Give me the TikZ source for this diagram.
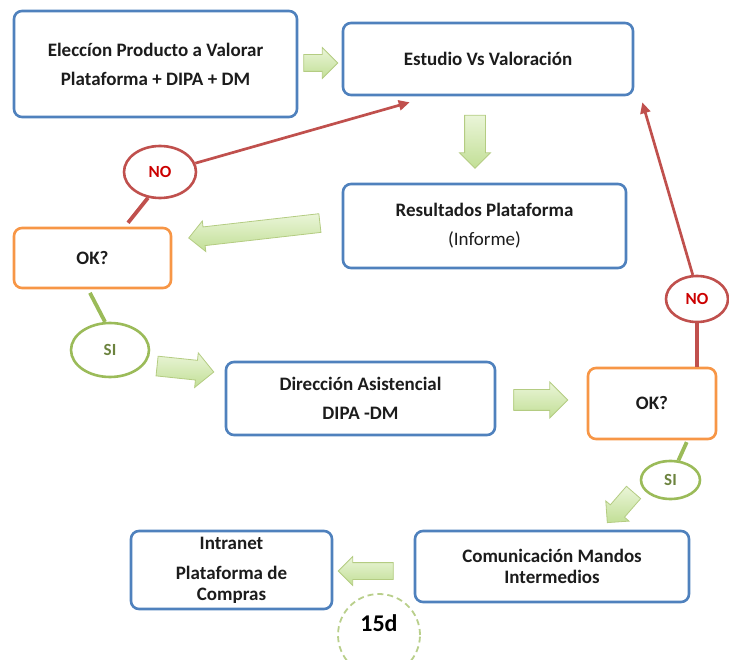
\documentclass[tikz,border=0pt]{standalone}
\usepackage{fontspec}
\setmainfont{Carlito}
\usepackage{tikz}
\usetikzlibrary{shapes.geometric, shapes.arrows, arrows.meta, positioning, calc}
\definecolor{mblue}{HTML}{4F81BD}
\definecolor{morange}{HTML}{F79646}
\definecolor{mred}{HTML}{C0504D}
\definecolor{mgreen}{HTML}{9BBB59}
\definecolor{mlime}{HTML}{EAF5D8}
\definecolor{mlimed}{HTML}{C2DF96}
\definecolor{mtext}{HTML}{1C1C1C}
\tikzset{
  box/.style={rectangle, rounded corners=8pt, draw=mblue, line width=2.6pt, fill=white, text=mtext,
              align=center, font=\bfseries\fontsize{19}{29}\selectfont},
  okbox/.style={box, draw=morange},
  noell/.style={ellipse, draw=mred, line width=2.6pt, fill=white, text=red!80!black, inner sep=0pt,
                font=\bfseries\fontsize{17}{20}\selectfont},
  siell/.style={ellipse, draw=mgreen, line width=2.6pt, fill=white, text=mgreen!70!black, inner sep=0pt,
                font=\bfseries\fontsize{17}{20}\selectfont},
  blk/.style 2 args={single arrow, draw=mgreen!75, line width=0.8pt, top color=mlime, bottom color=mlimed,
              inner xsep=0pt, inner ysep=#1, single arrow head extend=#2},
  noflow/.style={draw=mred, line width=2.7pt, -{Triangle[length=11pt,width=10pt]}},
  noline/.style={draw=mred, line width=3.8pt},
  siline/.style={draw=mgreen, line width=3.8pt}
}

\begin{document}
\begin{tikzpicture}[x=1pt, y=-1pt]
  \useasboundingbox (0,0) rectangle (729,660);
  % boxes
  \node[box, minimum width=283pt, minimum height=106pt] (elec) at (155.5,64) {Eleccíon Producto a Valorar\\Plataforma + DIPA + DM};
  \node[box, minimum width=290pt, minimum height=72pt] (est) at (488,59) {Estudio Vs Valoración};
  \node[box, minimum width=283pt, minimum height=84pt] (res) at (484.5,226) {Resultados Plataforma\\{\mdseries (Informe)}};
  \node[okbox, minimum width=157pt, minimum height=60pt] (ok1) at (92.5,258) {OK?};
  \node[box, minimum width=269pt, minimum height=73pt] (dir) at (360.5,398.5) {Dirección Asistencial\\DIPA -DM};
  \node[okbox, minimum width=128pt, minimum height=71pt] (ok2) at (652,403.5) {OK?};
  \node[box, minimum width=274pt, minimum height=71pt, font=\bfseries\fontsize{19}{21}\selectfont] (com) at (552,566.5) {Comunicación Mandos\\Intermedios};
  \node[box, minimum width=201pt, minimum height=78pt, font=\bfseries\fontsize{19}{21}\selectfont] (intr) at (231.5,570) {Intranet\\[9pt]Plataforma de\\Compras};
  % yes / no
  \node[noell, minimum width=72pt, minimum height=52pt] (no1) at (160,172) {NO};
  \node[noell, minimum width=62pt, minimum height=46pt] (no2) at (697,299) {NO};
  \node[siell, minimum width=78pt, minimum height=54pt] (si1) at (110,350) {SI};
  \node[siell, minimum width=59pt, minimum height=38pt] (si2) at (670.5,480) {SI};
  % block arrows
  \node[blk={8pt}{7pt}, minimum height=34pt] (a1) at (316.5,63) {};
  \node[blk={10pt}{5pt}, minimum height=53pt, rotate=270] (a2) at (475,136.5) {};
  \node[blk={9pt}{6pt}, minimum height=132pt, rotate=186.5] (a3) at (259,230) {};
  \node[blk={9.5pt}{7.5pt}, minimum height=57pt, rotate=-6] (a4) at (180.5,368.5) {};
  \node[blk={10pt}{7.5pt}, minimum height=54pt] (a5) at (535.5,400) {};
  \node[blk={9pt}{6pt}, minimum height=40pt, rotate=229] (a6) at (623.5,504) {};
  \node[blk={8pt}{6pt}, minimum height=55pt, rotate=180] (a7) at (370,571) {};
  % dashed ring
  \node[circle, draw=mgreen!70, dash pattern=on 6pt off 4pt, line width=1.8pt, minimum size=82pt] (ring) at (379,635) {};
  \node[font=\bfseries\fontsize{24}{24}\selectfont, text=black] (d15) at ($(ring.center)+(0,-12)$) {15d};
  % connectors
  \draw[noline, shorten <=5pt] (ok1.44) -- (no1.245);
  \draw[noflow] (no1.14) -- ($(est.south west)+(68,6)$);
  \draw[noline] (no2.south) -- (no2.south |- ok2.north);
  \draw[noflow] (no2.100) -- ($(est.south east)+(8,6)$);
  \draw[siline, shorten <=4pt] (ok1.262) -- (si1.100);
  \draw[siline, shorten <=2pt] (ok2.-46) -- (si2.68);
\end{tikzpicture}
\end{document}
